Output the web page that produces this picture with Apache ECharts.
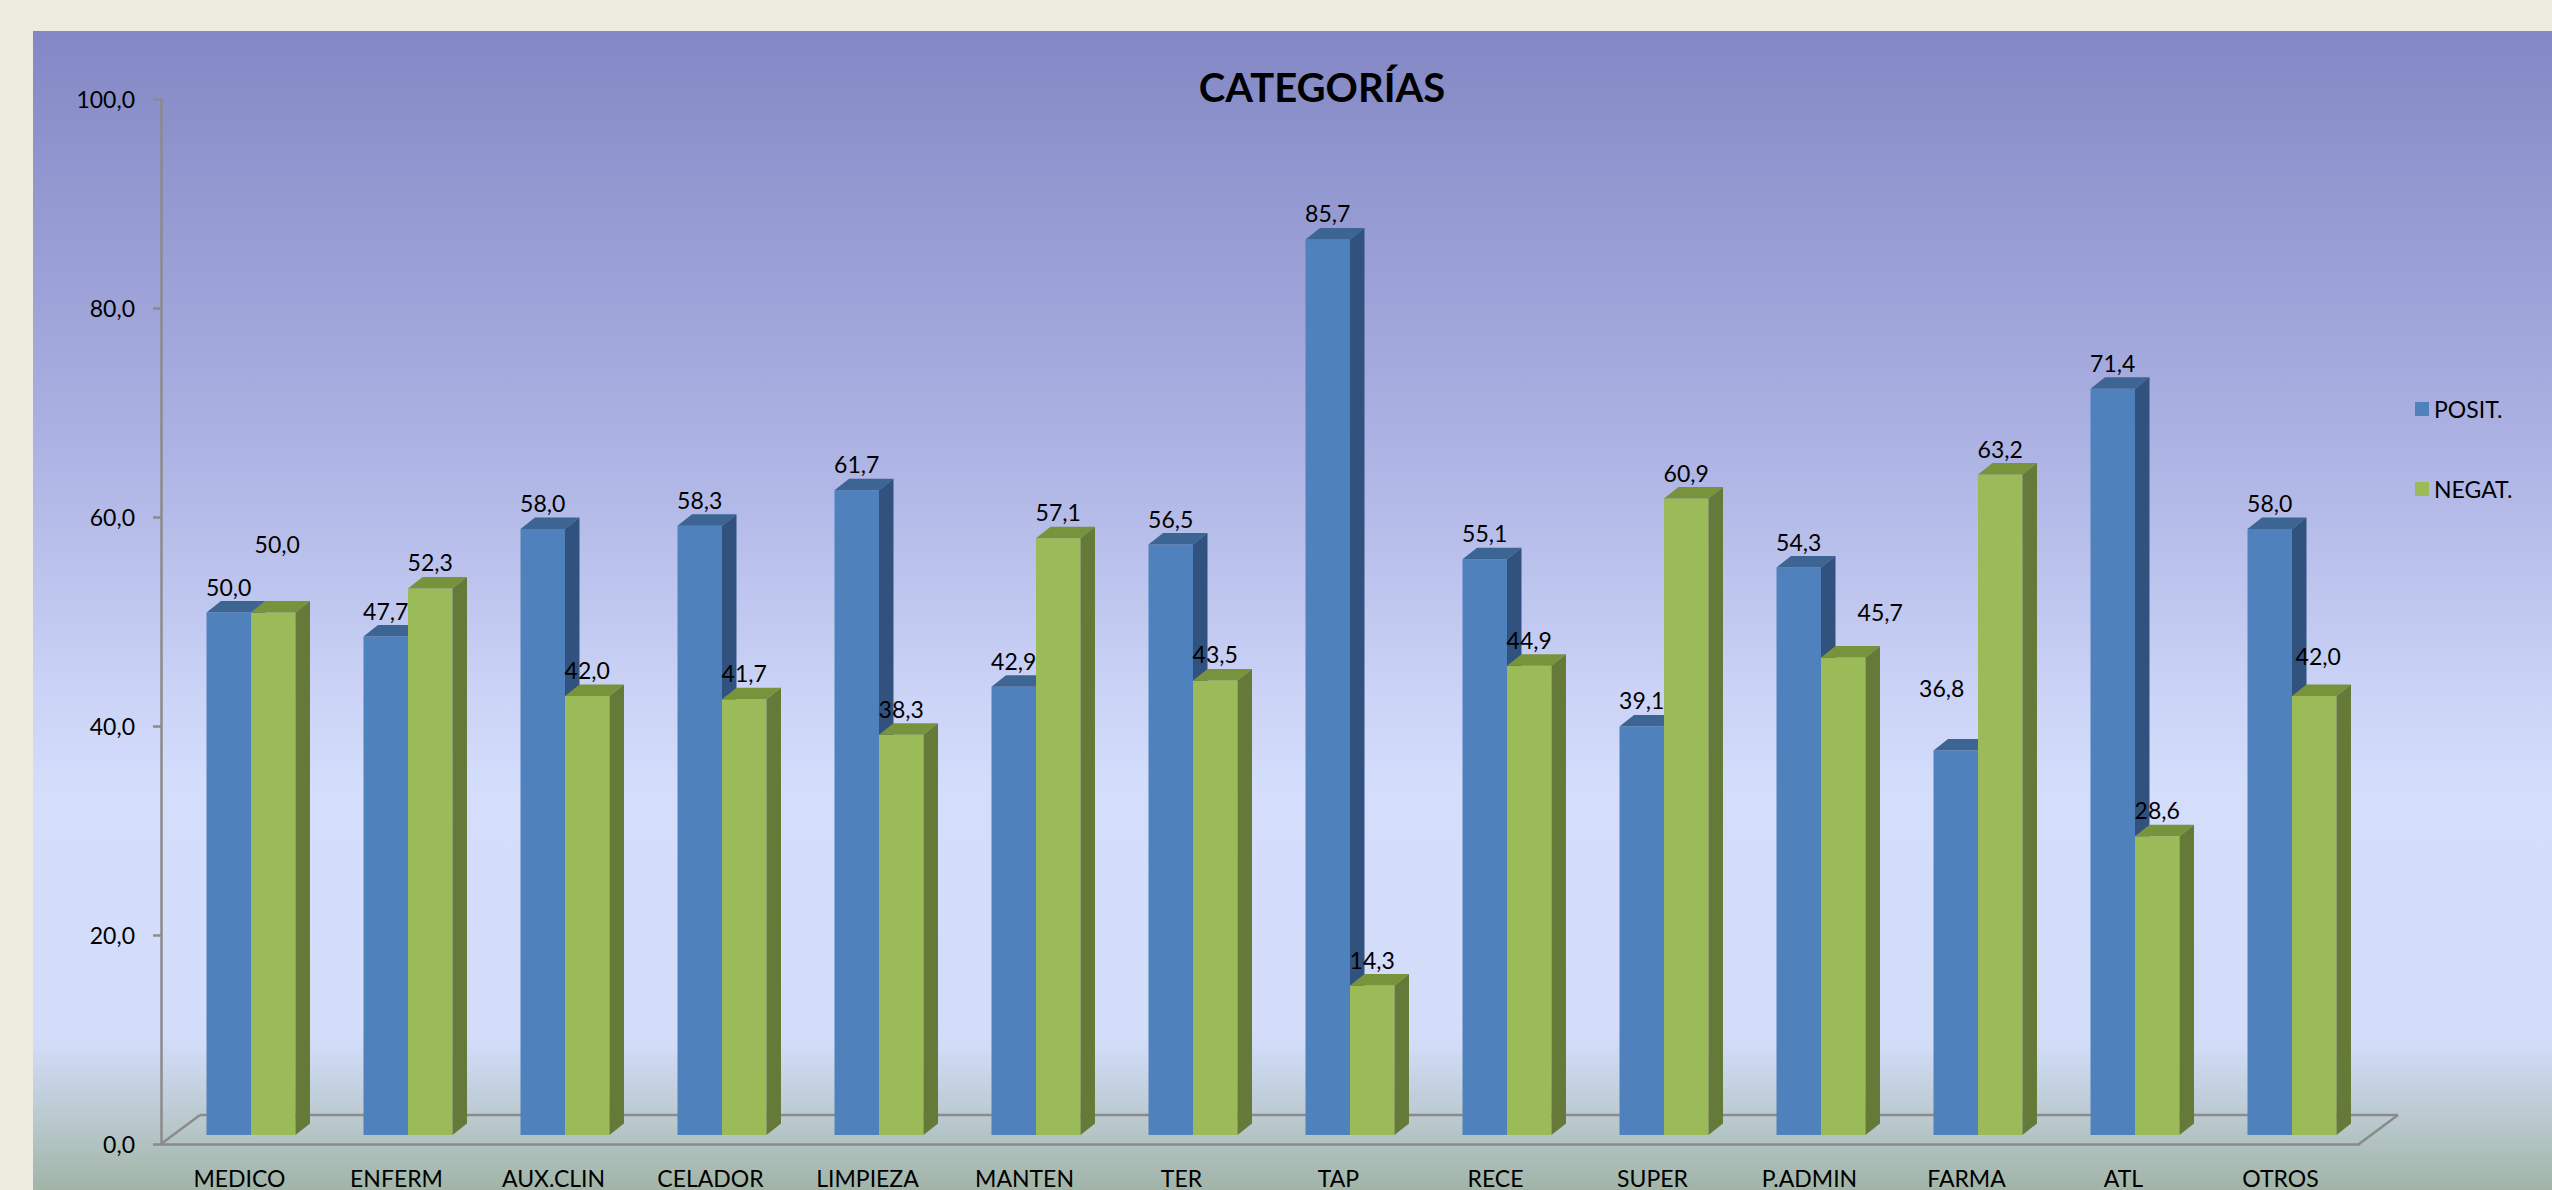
<!DOCTYPE html>
<html>
<head>
<meta charset="utf-8">
<title>CATEGORÍAS</title>
<script src="https://cdn.jsdelivr.net/npm/echarts/dist/echarts.min.js"></script>
<style>
  html, body { margin: 0; padding: 0; background: #EEECE0; }
  #chart { width: 2552px; height: 1190px; }
</style>
</head>
<body>
<div id="chart"></div>
<script>
// datos
var categories = ['MEDICO', 'ENFERM', 'AUX.CLIN', 'CELADOR', 'LIMPIEZA', 'MANTEN', 'TER', 'TAP', 'RECE', 'SUPER', 'P.ADMIN', 'FARMA', 'ATL', 'OTROS'];
var posit = [50.0, 47.7, 58.0, 58.3, 61.7, 42.9, 56.5, 85.7, 55.1, 39.1, 54.3, 36.8, 71.4, 58.0];
var negat = [50.0, 52.3, 42.0, 41.7, 38.3, 57.1, 43.5, 14.3, 44.9, 60.9, 45.7, 63.2, 28.6, 42.0];
var yTicks = [0, 20, 40, 60, 80, 100];

// etiquetas que en el original estan movidas a mano
var labelNudge = {
  'POSIT.': {11: [-14, -36]},
  'NEGAT.': {0: [4, -43], 10: [37, -19], 13: [4, -14]}
};

// efecto 3D
var LIFT = 9, DX = 14.5, DY = 11.5;   // barras
var FX = 39, FY = 29;                 // suelo
var AXIS_GRAY = '#8B8B8B';
var FONT = 'Lato';

function fmt(v) {
  return v.toFixed(1).replace('.', ',');
}

var chart = echarts.init(document.getElementById('chart'), null, {renderer: 'svg'});

function bar3d(name, values, face, slot) {
  return {
    name: name,
    type: 'custom',
    z: 3,
    itemStyle: {color: face.front},
    data: values.map(function (v, i) { return [i, v]; }),
    encode: {x: 0, y: 1},
    renderItem: function (params, api) {
      var i = api.value(0), v = api.value(1);
      var band = api.size([1, 0])[0];
      var w = band * 0.2834;
      var shift = band * 0.0732;
      var top = api.coord([i, v]);
      var base = api.coord([i, 0]);
      var xl = top[0] + shift + (slot === 0 ? -w : 0);
      var xr = xl + w;
      var yt = top[1] - LIFT, yb = base[1] - LIFT;
      var nudge = (labelNudge[name] || {})[i] || [0, 0];
      return {
        type: 'group',
        children: [
          {type: 'rect', shape: {x: xl, y: yt, width: w, height: yb - yt}, style: {fill: face.front}},
          {type: 'polygon', shape: {points: [[xl, yt], [xr, yt], [xr + DX, yt - DY], [xl + DX, yt - DY]]}, style: {fill: face.top}},
          {type: 'polygon', shape: {points: [[xr, yt], [xr + DX, yt - DY], [xr + DX, yb - DY], [xr, yb]]}, style: {fill: face.side}},
          {type: 'text', x: (xl + xr) / 2 + nudge[0], y: yt - 26 + nudge[1],
            style: {text: fmt(v), fill: '#000', font: '23px ' + FONT, align: 'center', verticalAlign: 'middle'}}
        ]
      };
    }
  };
}

var option = {
  animation: false,
  graphic: [{
    type: 'rect',
    z: -10,
    shape: {x: 33, y: 31, width: 2519, height: 1159},
    style: {
      fill: new echarts.graphic.LinearGradient(0, 0, 0, 1, [
        {offset: 0, color: '#8388C5'},
        {offset: 0.35, color: '#ABB1E2'},
        {offset: 0.58, color: '#CCD4F7'},
        {offset: 0.66, color: '#D4DEFC'},
        {offset: 0.87, color: '#D3DDFA'},
        {offset: 0.94, color: '#B9C9CE'},
        {offset: 1, color: '#A1B4A6'}
      ])
    }
  }],
  title: {
    text: 'CATEGORÍAS',
    left: 1317,
    top: 62,
    textAlign: 'center',
    textStyle: {fontFamily: FONT, fontSize: 40, fontWeight: 'bold', color: '#000'}
  },
  legend: {
    data: ['POSIT.', 'NEGAT.'],
    orient: 'vertical',
    left: 2410,
    top: 392,
    icon: 'rect',
    itemWidth: 14,
    itemHeight: 14,
    itemGap: 56,
    textStyle: {fontFamily: FONT, fontSize: 23, color: '#000', lineHeight: 24}
  },
  grid: {left: 161, right: 193, top: 99, bottom: 46},
  xAxis: {
    type: 'category',
    data: categories,
    axisLine: {lineStyle: {color: AXIS_GRAY, width: 2.5}},
    axisTick: {length: 8, interval: 0, lineStyle: {color: AXIS_GRAY, width: 2.5}},
    axisLabel: {interval: 0, margin: 22, fontFamily: FONT, fontSize: 23, color: '#000'}
  },
  yAxis: {
    type: 'value',
    min: yTicks[0],
    max: yTicks[yTicks.length - 1],
    interval: yTicks[1] - yTicks[0],
    splitLine: {show: false},
    axisLine: {show: true, lineStyle: {color: AXIS_GRAY, width: 2.5}},
    axisTick: {show: true, length: 8, lineStyle: {color: AXIS_GRAY, width: 2.5}},
    axisLabel: {margin: 26, fontFamily: FONT, fontSize: 23, color: '#000', formatter: fmt}
  },
  series: [
    {
      name: 'suelo',
      type: 'custom',
      z: 1,
      silent: true,
      data: [[0, 0]],
      encode: {x: 0, y: 1},
      renderItem: function (params, api) {
        var cs = params.coordSys;
        var y0 = api.coord([0, 0])[1];
        var xa = cs.x, xb = cs.x + cs.width;
        var ls = {stroke: AXIS_GRAY, lineWidth: 2.5};
        return {
          type: 'group',
          children: [
            {type: 'line', shape: {x1: xa, y1: y0, x2: xa + FX, y2: y0 - FY}, style: ls},
            {type: 'line', shape: {x1: xa + FX, y1: y0 - FY, x2: xb + FX, y2: y0 - FY}, style: ls},
            {type: 'line', shape: {x1: xb, y1: y0, x2: xb + FX, y2: y0 - FY}, style: ls}
          ]
        };
      }
    },
    bar3d('POSIT.', posit, {front: '#4F81BD', top: '#3C6594', side: '#31527F'}, 0),
    bar3d('NEGAT.', negat, {front: '#9BBB59', top: '#77933C', side: '#657A38'}, 1)
  ]
};

chart.setOption(option);
</script>
</body>
</html>
